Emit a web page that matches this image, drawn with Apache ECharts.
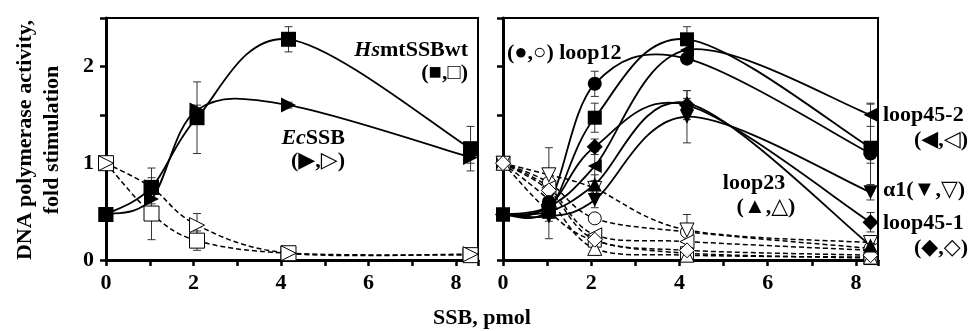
<!DOCTYPE html>
<html>
<head>
<meta charset="utf-8">
<script src="https://cdn.jsdelivr.net/npm/echarts@6/dist/echarts.min.js"></script>
<style>
html,body{margin:0;padding:0;background:#fff;}
#chart{width:970px;height:331px;}
</style>
</head>
<body>
<div id="chart"></div>
<script>
// SSB amounts, pmol
var xs = [0, 1.04, 2.08, 4.17, 8.33];
var xTicks = [0, 2, 4, 6, 8];
var yTicks = [0, 1, 2];

// left panel
var wtFilled = [0.47, 0.75, 1.47, 2.28, 1.15];
var wtFilledErr = [0.03, 0.2, 0.37, 0.13, 0.23];
var ecFilled = [0.47, 0.63, 1.55, 1.6, 1.06];
var ecFilledErr = [0, 0.05, 0.05, 0.03, 0.06];
var wtOpen = [1.0, 0.48, 0.2, 0.07, 0.05];
var wtOpenErr = [0, 0.27, 0.1, 0.02, 0.01];
var ecOpen = [1.0, 0.75, 0.36, 0.07, 0.06];
var ecOpenErr = [0, 0.1, 0.12, 0.02, 0.01];

// right panel, filled = solid lines
var rWt = [0.47, 0.52, 1.47, 2.28, 1.16];
var rWtErr = [0, 0.3, 0.15, 0.13, 0.45];
var loop12 = [0.47, 0.6, 1.82, 2.08, 1.1];
var loop12Err = [0, 0.05, 0.13, 0.05, 0.1];
var loop452 = [0.47, 0.55, 0.97, 2.17, 1.5];
var loop452Err = [0, 0.05, 0.15, 0.05, 0.12];
var loop23 = [0.47, 0.5, 0.78, 1.62, 0.15];
var loop23Err = [0, 0.05, 0.1, 0.05, 0.05];
var alpha1 = [0.47, 0.45, 0.62, 1.48, 0.7];
var alpha1Err = [0, 0.05, 0.08, 0.27, 0.08];
var loop451 = [0.47, 0.55, 1.17, 1.6, 0.39];
var loop451Err = [0, 0.05, 0.08, 0.15, 0.1];

// right panel, open = dashed lines
var rWtO = [1.0, 0.5, 0.2, 0.07, 0.02];
var loop12O = [1.0, 0.8, 0.43, 0.29, 0.12];
var loop12OErr = [0, 0.1, 0.05, 0.18, 0.03];
var loop452O = [1.0, 0.75, 0.26, 0.19, 0.1];
var loop23O = [1.0, 0.62, 0.12, 0.05, 0.03];
var alpha1O = [1.0, 0.88, 0.74, 0.31, 0.18];
var alpha1OErr = [0, 0.28, 0.06, 0.05, 0.03];
var loop451O = [1.0, 0.72, 0.21, 0.1, 0.05];

var TRI_R = 'path://M0,0L10,5L0,10Z';
var TRI_L = 'path://M10,0L0,5L10,10Z';
var TRI_D = 'path://M0,0L10,0L5,10Z';
var FONT = '"Liberation Serif", "DejaVu Serif", serif';

function pts(ys) {
  return xs.map(function (x, i) { return [x, ys[i]]; });
}

// excel-like smoothed curve, one bezier per segment
function curve(g, ys, dashed) {
  var data = xs.slice(0, -1).map(function (x, i) { return [x, ys[i]]; });
  return {
    type: 'custom', xAxisIndex: g, yAxisIndex: g, data: data, z: dashed ? 3 : 4,
    silent: true, clip: false,
    renderItem: function (params, api) {
      var i = params.dataIndex, n = xs.length;
      var p = function (k) {
        k = Math.max(0, Math.min(n - 1, k));
        return api.coord([xs[k], ys[k]]);
      };
      var p0 = p(i - 1), p1 = p(i), p2 = p(i + 1), p3 = p(i + 2);
      return {
        type: 'bezierCurve',
        shape: {
          x1: p1[0], y1: p1[1], x2: p2[0], y2: p2[1],
          cpx1: p1[0] + (p2[0] - p0[0]) / 6, cpy1: p1[1] + (p2[1] - p0[1]) / 6,
          cpx2: p2[0] - (p3[0] - p1[0]) / 6, cpy2: p2[1] - (p3[1] - p1[1]) / 6
        },
        style: { stroke: '#000', fill: null, lineWidth: dashed ? 1.5 : 1.8, lineDash: dashed ? [5, 3] : null }
      };
    }
  };
}

function marks(g, ys, symbol, filled, size) {
  return {
    type: 'scatter', xAxisIndex: g, yAxisIndex: g,
    data: pts(ys), symbol: symbol, symbolSize: size || 14, z: filled ? 6 : 5,
    itemStyle: { color: filled ? '#000' : '#fff', borderColor: '#000', borderWidth: filled ? 0 : 1, opacity: 1 },
    emphasis: { disabled: true }
  };
}

function errs(g, ys, es) {
  var d = [];
  xs.forEach(function (x, i) {
    if (es[i] > 0) d.push([x, ys[i] - es[i], ys[i] + es[i]]);
  });
  return {
    type: 'custom', xAxisIndex: g, yAxisIndex: g, data: d, z: 2, silent: true,
    encode: { x: 0, y: [1, 2] },
    renderItem: function (params, api) {
      var lo = api.coord([api.value(0), api.value(1)]);
      var hi = api.coord([api.value(0), api.value(2)]);
      var w = 4, st = { stroke: '#333', lineWidth: 1 };
      return { type: 'group', children: [
        { type: 'line', shape: { x1: lo[0], y1: lo[1], x2: hi[0], y2: hi[1] }, style: st },
        { type: 'line', shape: { x1: lo[0] - w, y1: lo[1], x2: lo[0] + w, y2: lo[1] }, style: st },
        { type: 'line', shape: { x1: hi[0] - w, y1: hi[1], x2: hi[0] + w, y2: hi[1] }, style: st }
      ]};
    }
  };
}

function xAx(g) {
  return {
    type: 'value', gridIndex: g, min: 0, max: 8.5, interval: 1,
    axisLine: { lineStyle: { color: '#000', width: 3 } },
    axisTick: { length: 6, lineStyle: { color: '#000', width: 2.5 } },
    axisLabel: {
      margin: 12, color: '#000', fontFamily: FONT, fontWeight: 'bold', fontSize: 22,
      formatter: function (v) { return xTicks.indexOf(v) >= 0 ? String(v) : ''; }
    },
    splitLine: { show: false }
  };
}

function yAx(g) {
  return {
    type: 'value', gridIndex: g, min: 0, max: 2.5, interval: 0.5,
    axisLine: { show: true, lineStyle: { color: '#000', width: 3 } },
    axisTick: { show: true, length: 6, lineStyle: { color: '#000', width: 2.5 } },
    axisLabel: {
      show: g === 0, margin: 12, color: '#000', fontFamily: FONT, fontWeight: 'bold', fontSize: 22,
      formatter: function (v) { return yTicks.indexOf(v) >= 0 ? String(v) : ''; }
    },
    splitLine: { show: false }
  };
}

function txt(x, y, s, align, extra) {
  var style = {
    text: s, x: 0, y: 0, fill: '#000', align: align || 'left', verticalAlign: 'middle',
    font: 'bold 22px ' + FONT
  };
  if (extra) style.rich = extra;
  return { type: 'text', x: x, y: y, z: 10, style: style };
}

var rich = { i: { fontStyle: 'italic', fontWeight: 'bold', fontSize: 22, fontFamily: FONT } };

var chart = echarts.init(document.getElementById('chart'));
var option = {
  animation: false,
  backgroundColor: '#fff',
  grid: [
    { left: 106, right: 492, top: 18, bottom: 71, show: true, borderColor: '#000', borderWidth: 2 },
    { left: 503, right: 92, top: 18, bottom: 71, show: true, borderColor: '#000', borderWidth: 2 }
  ],
  xAxis: [xAx(0), xAx(1)],
  yAxis: [yAx(0), yAx(1)],
  series: [
    errs(0, wtFilled, wtFilledErr), errs(0, ecFilled, ecFilledErr),
    errs(0, wtOpen, wtOpenErr), errs(0, ecOpen, ecOpenErr),
    curve(0, wtOpen, true), curve(0, ecOpen, true),
    curve(0, ecFilled, false), curve(0, wtFilled, false),
    marks(0, wtOpen, 'rect', false, 15),
    marks(0, ecOpen, TRI_R, false, 15),
    marks(0, ecFilled, TRI_R, true, 15),
    marks(0, wtFilled, 'rect', true, 15),

    errs(1, rWt, rWtErr), errs(1, loop12, loop12Err), errs(1, loop452, loop452Err),
    errs(1, loop23, loop23Err), errs(1, alpha1, alpha1Err), errs(1, loop451, loop451Err),
    errs(1, loop12O, loop12OErr), errs(1, alpha1O, alpha1OErr),
    curve(1, rWtO, true), curve(1, loop12O, true), curve(1, loop452O, true),
    curve(1, loop23O, true), curve(1, alpha1O, true), curve(1, loop451O, true),
    curve(1, loop23, false), curve(1, alpha1, false), curve(1, loop451, false),
    curve(1, loop452, false), curve(1, loop12, false), curve(1, rWt, false),
    marks(1, rWtO, 'rect', false, 13),
    marks(1, loop12O, 'circle', false, 13),
    marks(1, loop452O, TRI_L, false, 14),
    marks(1, loop23O, 'triangle', false, 14),
    marks(1, alpha1O, TRI_D, false, 14),
    marks(1, loop451O, 'diamond', false, 15),
    marks(1, loop23, 'triangle', true, 14),
    marks(1, alpha1, TRI_D, true, 14),
    marks(1, loop451, 'diamond', true, 16),
    marks(1, loop452, TRI_L, true, 14),
    marks(1, loop12, 'circle', true, 14),
    marks(1, rWt, 'rect', true, 14)
  ],
  graphic: [
    { type: 'text', x: 25, y: 140, rotation: Math.PI / 2, z: 10,
      style: { text: 'DNA polymerase activity,', fill: '#000', align: 'center', verticalAlign: 'middle', font: 'bold 22px ' + FONT } },
    { type: 'text', x: 52, y: 140, rotation: Math.PI / 2, z: 10,
      style: { text: 'fold stimulation', fill: '#000', align: 'center', verticalAlign: 'middle', font: 'bold 22px ' + FONT } },
    txt(482, 318, 'SSB, pmol', 'center'),
    txt(468, 50, '{i|Hs}mtSSBwt', 'right', rich),
    txt(468, 73, '(■,□)', 'right'),
    txt(345, 138, '{i|Ec}SSB', 'right', rich),
    txt(345, 161, '(▶,▷)', 'right'),
    txt(507, 53, '(●,○) loop12', 'left'),
    txt(754, 183, 'loop23', 'center'),
    txt(766, 207, '(▲,△)', 'center'),
    txt(883, 115, 'loop45-2', 'left'),
    txt(968, 140, '(◀,◁)', 'right'),
    txt(883, 190, 'α1(▼,▽)', 'left'),
    txt(883, 223, 'loop45-1', 'left'),
    txt(968, 248, '(◆,◇)', 'right')
  ]
};
chart.setOption(option);
</script>
</body>
</html>
